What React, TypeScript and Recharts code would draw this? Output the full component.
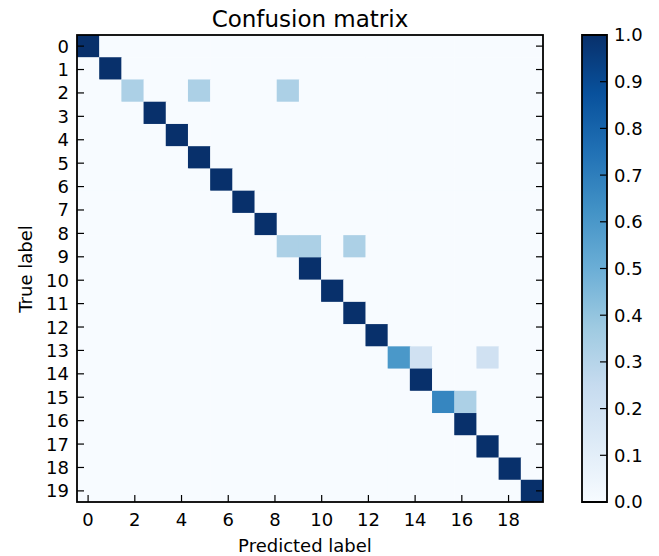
import React from 'react';
import { ScatterChart, Scatter, XAxis, YAxis, BarChart, Bar } from 'recharts';

// 21 classes in the matrix, but only 20 tick labels spread over them
const classCount = 21;

// row-normalised confusion matrix: the diagonal, then the few off-diagonal cells
const diagonal = [1, 1, 0.33, 1, 1, 1, 1, 1, 1, 0.33, 1, 1, 1, 1, 0.6, 1, 0.67, 1, 1, 1, 1];
const offDiagonal: [number, number, number][] = [
  [2, 5, 0.33],
  [2, 9, 0.33],
  [9, 10, 0.33],
  [9, 12, 0.33],
  [14, 15, 0.2],
  [14, 18, 0.2],
  [16, 17, 0.33],
];

const yTickLabels = ['0', '1', '2', '3', '4', '5', '6', '7', '8', '9', '10', '11', '12', '13', '14', '15', '16', '17', '18', '19'];
const xTickLabels = ['0', '2', '4', '6', '8', '10', '12', '14', '16', '18'];
const colorbarTicks = [0, 0.1, 0.2, 0.3, 0.4, 0.5, 0.6, 0.7, 0.8, 0.9, 1.0];

// matplotlib "Blues"
const bluesStops = ['#f7fbff', '#deebf7', '#c6dbef', '#9ecae1', '#6baed6', '#4292c6', '#2171b5', '#08519c', '#08306b'];

const FONT = '"DejaVu Sans", sans-serif';
const W = 560;
const H = 556;
const PLOT = { left: 77, top: 35, right: 543, bottom: 502 };
const cellW = (PLOT.right - PLOT.left) / classCount;
const cellH = (PLOT.bottom - PLOT.top) / classCount;
const tickStep = (classCount - 1) / (yTickLabels.length - 1);

const hex = (s: string) => [1, 3, 5].map((i) => parseInt(s.slice(i, i + 2), 16));
const blues = (v: number) => {
  const t = Math.min(1, Math.max(0, v)) * (bluesStops.length - 1);
  const i = Math.min(Math.floor(t), bluesStops.length - 2);
  const f = t - i;
  const a = hex(bluesStops[i]);
  const b = hex(bluesStops[i + 1]);
  const c = a.map((x, k) => Math.round(x + (b[k] - x) * f));
  return `rgb(${c[0]},${c[1]},${c[2]})`;
};

const cells: { col: number; row: number; value: number }[] = [];
for (let row = 0; row < classCount; row++) {
  for (let col = 0; col < classCount; col++) {
    const off = offDiagonal.find((d) => d[0] === row && d[1] === col);
    cells.push({ col, row, value: row === col ? diagonal[row] : off ? off[2] : 0 });
  }
}

const yTicks = yTickLabels.map((l) => Number(l) * tickStep);
const xTicks = xTickLabels.map((l) => Number(l) * tickStep);
const labelOf = (v: number) => String(Math.round(v / tickStep));

const CellShape = (props: any) => {
  const { cx, cy, payload } = props;
  return (
    <rect
      x={cx - cellW / 2}
      y={cy - cellH / 2}
      width={cellW + 0.5}
      height={cellH + 0.5}
      fill={blues(payload.value)}
    />
  );
};

const BottomTick = ({ x, payload }: any) => (
  <g>
    <line x1={x} y1={PLOT.bottom} x2={x} y2={PLOT.bottom - 7} stroke="#000" strokeWidth={1.2} />
    <text x={x} y={PLOT.bottom + 24} textAnchor="middle" fontSize={18} fontFamily={FONT} fill="#000">
      {labelOf(payload.value)}
    </text>
  </g>
);
const TopTick = ({ x }: any) => (
  <line x1={x} y1={PLOT.top} x2={x} y2={PLOT.top + 7} stroke="#000" strokeWidth={1.2} />
);
const LeftTick = ({ y, payload }: any) => (
  <g>
    <line x1={PLOT.left} y1={y} x2={PLOT.left + 7} y2={y} stroke="#000" strokeWidth={1.2} />
    <text x={PLOT.left - 8} y={y} dy="0.36em" textAnchor="end" fontSize={18} fontFamily={FONT} fill="#000">
      {labelOf(payload.value)}
    </text>
  </g>
);
const RightTick = ({ y }: any) => (
  <line x1={PLOT.right} y1={y} x2={PLOT.right - 7} y2={y} stroke="#000" strokeWidth={1.2} />
);

// colorbar chart sits at left 560, its bar spans x 582..607
const CB_LEFT = 560;
const CB = { left: 582 - CB_LEFT, right: 607 - CB_LEFT };
const ColorbarTick = ({ y, payload }: any) => (
  <g>
    <line x1={CB.right} y1={y} x2={CB.right - 7} y2={y} stroke="#000" strokeWidth={1.2} />
    <text x={CB.right + 7} y={y} dy="0.36em" textAnchor="start" fontSize={18} fontFamily={FONT} fill="#000">
      {payload.value.toFixed(1)}
    </text>
  </g>
);

const domain: [number, number] = [-0.5, classCount - 0.5];

const App = () => {
  return (
    <div style={{ position: 'absolute', left: 0, top: 0, width: 659, height: 556, background: '#fff', overflow: 'hidden' }}>
      <div style={{ position: 'absolute', left: 0, top: 0 }}>
        <ScatterChart width={W} height={H} margin={{ top: 0, left: 0, right: 0, bottom: 0 }}>
          <Scatter data={cells} dataKey="row" shape={<CellShape />} isAnimationActive={false} />
          <XAxis dataKey="col" type="number" domain={domain} allowDataOverflow ticks={xTicks} height={H - PLOT.bottom}
            tickSize={0} tickMargin={0} tickLine={false} axisLine={false} tick={<BottomTick />} interval={0} />
          <XAxis xAxisId="top" orientation="top" type="number" domain={domain} allowDataOverflow ticks={xTicks} height={PLOT.top}
            tickSize={0} tickMargin={0} tickLine={false} axisLine={false} tick={<TopTick />} interval={0} />
          <YAxis dataKey="row" type="number" domain={domain} allowDataOverflow reversed ticks={yTicks} width={PLOT.left}
            tickSize={0} tickMargin={0} tickLine={false} axisLine={false} tick={<LeftTick />} interval={0} />
          <YAxis yAxisId="right" orientation="right" type="number" domain={domain} allowDataOverflow reversed ticks={yTicks} width={W - PLOT.right}
            tickSize={0} tickMargin={0} tickLine={false} axisLine={false} tick={<RightTick />} interval={0} />
        </ScatterChart>
      </div>
      <div style={{ position: 'absolute', left: CB_LEFT, top: 0 }}>
        <BarChart width={99} height={H} data={[{ name: 'cb', value: 1 }]} barCategoryGap={0}
          margin={{ top: PLOT.top, left: CB.left, right: 0, bottom: H - PLOT.bottom }}>
          <defs>
            <linearGradient id="cbGrad" x1="0" y1="1" x2="0" y2="0">
              {bluesStops.map((c, i) => (
                <stop key={c} offset={i / (bluesStops.length - 1)} stopColor={c} />
              ))}
            </linearGradient>
          </defs>
          <XAxis dataKey="name" hide />
          <YAxis orientation="right" type="number" domain={[0, 1]} ticks={colorbarTicks} width={99 - CB.right} interval={0}
            tickSize={0} tickMargin={0} tickLine={false} axisLine={false} tick={<ColorbarTick />} />
          <Bar dataKey="value" fill="url(#cbGrad)" stroke="#000" strokeWidth={1.8} isAnimationActive={false} />
        </BarChart>
      </div>
      <svg width={659} height={556} style={{ position: 'absolute', left: 0, top: 0, pointerEvents: 'none' }}>
        <rect x={PLOT.left} y={PLOT.top} width={PLOT.right - PLOT.left} height={PLOT.bottom - PLOT.top}
          fill="none" stroke="#000" strokeWidth={1.8} />
        <text x={310} y={27} textAnchor="middle" fontSize={23} fontFamily={FONT} fill="#000">Confusion matrix</text>
        <text x={305} y={552} textAnchor="middle" fontSize={18} fontFamily={FONT} fill="#000">Predicted label</text>
        <text x={32} y={269} transform="rotate(-90 32 269)" textAnchor="middle" fontSize={18} fontFamily={FONT} fill="#000">True label</text>
      </svg>
    </div>
  );
};

export default App;
